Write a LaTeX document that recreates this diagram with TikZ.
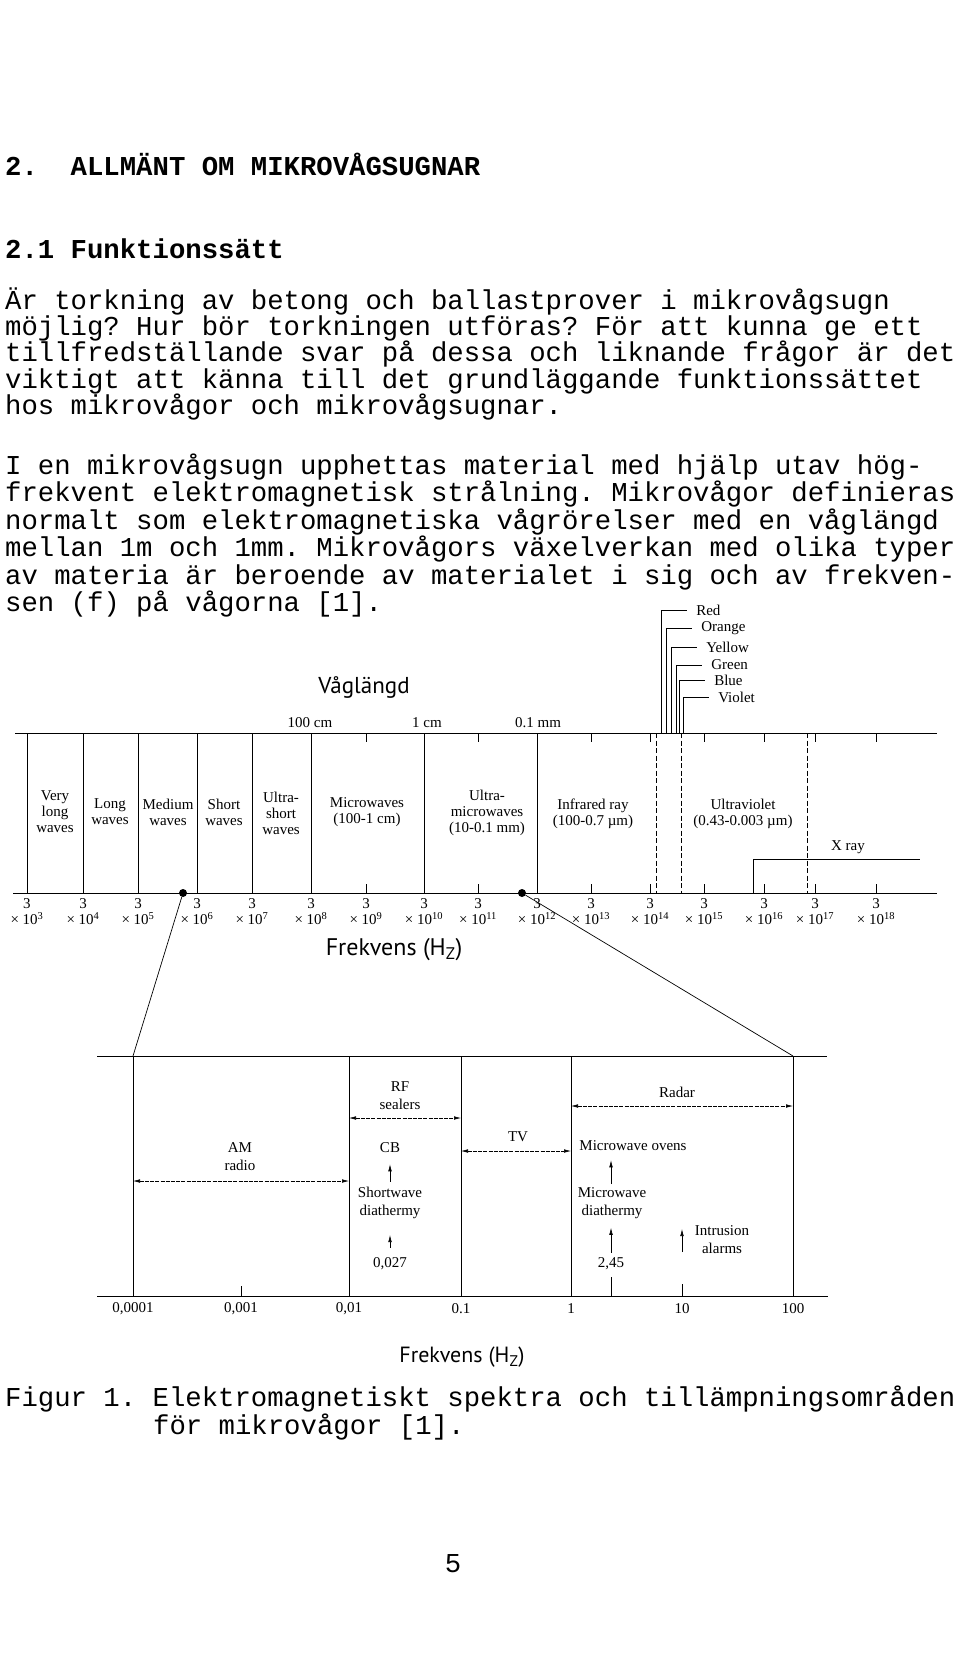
\documentclass[tikz,border=0pt]{standalone}
\usepackage{fontspec}
\setmainfont{Liberation Serif}
\newfontfamily\typewriter{Liberation Mono}
\newfontfamily\lettering{PT Sans}
\usetikzlibrary{arrows.meta}
\frenchspacing

\begin{document}
\begin{tikzpicture}[
    x=1pt, y=-1pt,
    axis rule/.style={draw=black, line width=0.9pt},
    divider/.style={draw=black, line width=0.8pt},
    dashed divider/.style={divider, dash pattern=on 5pt off 2.5pt},
    tick mark/.style={draw=black, line width=0.7pt},
    thin rule/.style={draw=black, line width=0.6pt},
    leader/.style={draw=black, line width=0.7pt},
    dot/.style={circle, fill=black, minimum size=8pt, inner sep=0pt},
    band label/.style={font=\fontsize{15}{16}\selectfont, align=center, inner sep=0pt},
    scale label/.style={font=\fontsize{15}{16}\selectfont, align=center, inner sep=0pt},
    colour label/.style={font=\fontsize{15}{15}\selectfont, anchor=west,
        inner sep=0pt, xshift=9pt},
    use label/.style={font=\fontsize{15}{18}\selectfont, align=center, inner sep=0pt},
    span arrow/.style={thin rule, dash pattern=on 4pt off 1.2pt,
        {Latex[length=7pt,width=3.6pt]}-{Latex[length=7pt,width=3.6pt]}},
    up arrow/.style={thin rule, -{Latex[length=7pt,width=3.6pt]}},
    body/.style={font=\typewriter\fontsize{27.3}{27}\selectfont, anchor=base west,
        inner sep=0pt},
    heading/.style={body, font=\typewriter\bfseries\fontsize{27.3}{27}\selectfont},
    hand/.style={font=\lettering\fontsize{24}{24}\selectfont, inner sep=0pt}
]
\path[use as bounding box, fill=white] (0,0) rectangle (960,1679);

% text above the figure
\node[heading] (sec-title) at (5,175) {2.\ \ ALLMÄNT OM MIKROVÅGSUGNAR};
\node[heading] (sub-title) at (5,258) {2.1 Funktionssätt};

\node[body] (p1-a) at (5,309) {Är torkning av betong och ballastprover i mikrovågsugn};
\node[body] (p1-b) at (5,335) {möjlig? Hur bör torkningen utföras? För att kunna ge ett};
\node[body] (p1-c) at (5,361) {tillfredställande svar på dessa och liknande frågor är det};
\node[body] (p1-d) at (5,388) {viktigt att känna till det grundläggande funktionssättet};
\node[body] (p1-e) at (5,414) {hos mikrovågor och mikrovågsugnar.};

\node[body] (p2-a) at (5,474) {I en mikrovågsugn upphettas material med hjälp utav hög-};
\node[body] (p2-b) at (5,501) {frekvent elektromagnetisk strålning. Mikrovågor definieras};
\node[body] (p2-c) at (5,529) {normalt som elektromagnetiska vågrörelser med en våglängd};
\node[body] (p2-d) at (5,556) {mellan 1m och 1mm. Mikrovågors växelverkan med olika typer};
\node[body] (p2-e) at (5,584) {av materia är beroende av materialet i sig och av frekven-};
\node[body] (p2-f) at (5,611) {sen (f) på vågorna [1].};

% wavelength scale
\node[hand, font=\lettering\fontsize{23}{23}\selectfont] (wavelength) at (364,687) {Våglängd};
\node[scale label] (len-100cm) at (310,723) {100 cm};
\node[scale label] (len-1cm) at (427,723) {1 cm};
\node[scale label] (len-01mm) at (538,723) {0.1 mm};

% spectrum frame
\draw[axis rule] (15,733) -- (937,733);
\draw[axis rule] (13,893) -- (937,893);
\foreach \xpos/\ex in {27/3, 83/4, 138/5, 197/6, 252/7, 311/8, 366/9, 424/10,
        478/11, 537/12, 591/13, 650/14, 704/15, 764/16, 815/17, 876/18} {
    \coordinate (top-\ex) at (\xpos,733);
    \coordinate (bot-\ex) at (\xpos,893);
    \node[scale label] (freq-\ex) at (\xpos,912) {3\\× 10\textsuperscript{\ex}};
}
\foreach \ex in {3,4,5,6,7,8,10,12}
    \draw[divider] (top-\ex) -- (bot-\ex);
\foreach \ex in {9,11,13,14,15,16,17,18} {
    \draw[tick mark] (top-\ex) -- ++(0,9);
    \draw[tick mark] (bot-\ex) -- ++(0,-9);
}
\draw[dashed divider] (656,733) -- (656,893);
\draw[dashed divider] (681,733) -- (681,893);
\draw[dashed divider] (807,733) -- (807,893);

% visible light
\foreach \xpos/\ypos/\colname in {661/610/Red, 666/628/Orange, 671/647/Yellow,
        676/665/Green, 679/680/Blue, 683/697/Violet}
    \draw[thin rule] (\xpos,733) |- ({\xpos+26},\ypos)
        node[colour label] (light-\colname) {\colname};

% band names
\node[band label] (very-long) at (55,812) {Very\\long\\waves};
\node[band label] (long) at (110,812) {Long\\waves};
\node[band label] (medium) at (168,812) {Medium\\waves};
\node[band label] (short) at (224,812) {Short\\waves};
\node[band label] (ultra-short) at (281,813) {Ultra-\\short\\waves};
\node[band label] (micro) at (367,812) {Microwaves\\(100-1 cm)};
\node[band label] (ultra-micro) at (487,813) {Ultra-\\microwaves\\(10-0.1 mm)};
\node[band label] (infrared) at (593,814) {Infrared ray\\(100-0.7 \textmu m)};
\node[band label] (ultraviolet) at (743,814) {Ultraviolet\\(0.43-0.003 \textmu m)};

\draw[divider] (753,893) |- (920,859);
\node[band label] (xray) at (848,847) {X ray};

\node[hand] (freq-axis) at (394,950) {Frekvens (H\textsubscript{Z})};

% zoomed band
\node[dot] (dot-lo) at (183,893) {};
\node[dot] (dot-hi) at (522,893) {};
\coordinate (box-tl) at (133,1056);
\coordinate (box-tr) at (793,1056);
\draw[leader] (dot-lo) -- (box-tl);
\draw[leader] (dot-hi) -- (box-tr);

\draw[thin rule] (97,1056) -- (827,1056);
\draw[thin rule] (97,1296) -- (828,1296);
\foreach \xpos in {133,349,461,571,793}
    \draw[thin rule] (\xpos,1056) -- (\xpos,1296);
\foreach \xpos/\ylen in {241/10, 611/19, 682/12}
    \draw[thin rule] (\xpos,1296) -- ++(0,-\ylen);

\node[use label] (val-a) at (133,1309) {0,0001};
\node[use label] (val-b) at (241,1309) {0,001};
\node[use label] (val-c) at (349,1309) {0,01};
\node[use label] (val-d) at (461,1309) {0.1};
\node[use label] (val-e) at (571,1309) {1};
\node[use label] (val-f) at (682,1309) {10};
\node[use label] (val-g) at (793,1309) {100};

\draw[span arrow] (133,1181) -- (349,1181);
\node[use label] (am-radio) at (240,1157) {AM\\radio};
\draw[span arrow] (349,1118) -- (461,1118);
\node[use label] (rf-sealers) at (400,1096) {RF\\sealers};
\draw[span arrow] (461,1151) -- (571,1151);
\node[use label] (tv) at (518,1137) {TV};
\draw[span arrow] (571,1106) -- (793,1106);
\node[use label] (radar) at (677,1092) {Radar};

\node[use label] (cb) at (390,1148) {CB};
\node[use label] (shortwave) at (390,1203) {Shortwave\\diathermy};
\node[use label] (f-0027) at (390,1264) {0,027};
\draw[up arrow, shorten <=5pt, shorten >=11pt] (shortwave) -- (cb);
\draw[up arrow, shorten <=10pt, shorten >=16pt] (f-0027) -- (shortwave);

\node[use label] (mw-ovens) at (633,1146) {Microwave ovens};
\node[use label] (mw-diathermy) at (612,1203) {Microwave\\diathermy};
\node[use label] (f-245) at (611,1264) {2,45};
\draw[up arrow, shorten <=3pt, shorten >=9pt]
    (mw-diathermy.north -| f-245) -- (mw-ovens.south -| f-245);
\draw[up arrow, shorten <=5pt, shorten >=9pt] (f-245) -- (mw-diathermy.south -| f-245);

\node[use label] (intrusion) at (722,1240) {Intrusion\\alarms};
\draw[up arrow] (682,1252) -- (682,1229);

\node[hand, font=\lettering\fontsize{22}{22}\selectfont] (freq-axis-b) at (462,1357)
    {Frekvens (H\textsubscript{Z})};

% caption
\node[body] (caption-a) at (5,1406) {Figur 1. Elektromagnetiskt spektra och tillämpningsområden};
\node[body] (caption-b) at (153,1434) {för mikrovågor [1].};
\node[body, anchor=base] (page-no) at (453,1572) {5};

\end{tikzpicture}
\end{document}
